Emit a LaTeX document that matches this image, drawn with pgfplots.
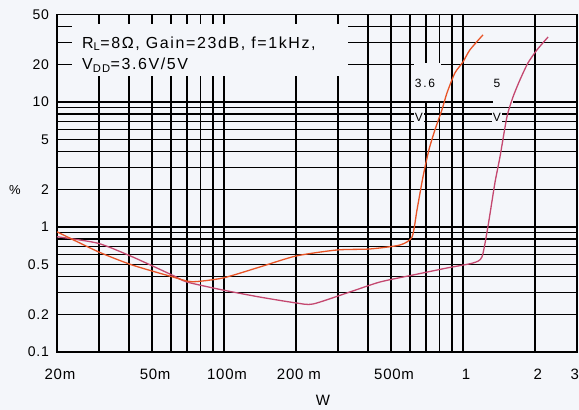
\documentclass[border=0pt]{standalone}
\usepackage{fontspec}
\setmainfont{Liberation Sans}
\newfontfamily\tickfont{Liberation Sans}[LetterSpace=5]
\newfontfamily\boxfont{Liberation Sans}[LetterSpace=10]
\newfontfamily\labfont{Liberation Sans}[LetterSpace=15]
\usepackage{pgfplots}
\pgfplotsset{compat=1.18}
\usetikzlibrary{backgrounds}
\definecolor{paper}{RGB}{244,246,250}
\definecolor{c36}{RGB}{232,84,38}
\definecolor{c5}{RGB}{196,72,112}
\begin{document}
\begin{tikzpicture}
\begin{loglogaxis}[name=ax, scale only axis, width=520pt, height=337.4pt,
  xmin=0.02, xmax=3, ymin=0.1, ymax=50,
  xtick={0.02,0.03,0.04,0.05,0.06,0.07,0.08,0.09,0.1,0.2,0.3,0.4,0.5,0.6,0.7,0.8,0.9,1,2,3},
  xticklabels={20m,,,50m,,,,,100m,200 m,,,500m,,,,,1,2,\makebox[0pt][r]{3\hspace{1pt}}},
  ytick={0.1,0.2,0.3,0.4,0.5,0.6,0.7,0.8,0.9,1,2,3,4,5,6,7,8,9,10,20,30,40,50},
  yticklabels={0.1,0.2,,,0.5,,,,,1,2,,,5,,,,,10,20,,,50},
  grid=major, major grid style={black, line width=1.25pt},
  minor tick num=0,
  major tick length=0pt, minor tick length=0pt,
  axis line style={black, line width=1.4pt},
  xticklabel style={font=\tickfont\fontsize{15}{17}\selectfont, anchor=base, yshift=-27pt, xshift=3pt, inner sep=0pt},
  yticklabel style={font=\tickfont\fontsize{14}{16}\selectfont, anchor=east, xshift=-8pt, inner sep=0pt},
]
% label boxes
\fill[paper] (rel axis cs:0.0288,0.818) rectangle (rel axis cs:0.5596,0.972);
\fill[paper] (rel axis cs:0.6865,0.745) rectangle (rel axis cs:0.738,0.858);
\fill[paper] (rel axis cs:0.838,0.73) rectangle (rel axis cs:0.877,0.76);
\node[anchor=base west, font=\boxfont\fontsize{16}{18}\selectfont, inner sep=0pt] at (rel axis cs:0.048,0.901) {R\textsubscript{L}=8Ω, Gain=23dB, f=1kHz,};
\node[anchor=base west, font=\boxfont\fontsize{16}{18}\selectfont, inner sep=0pt] at (rel axis cs:0.048,0.836) {V\textsubscript{DD}=3.6V/5V};
\node[font=\labfont\fontsize{12}{14}\selectfont, inner sep=0pt] at (rel axis cs:0.7077,0.797) {3.6};
\node[font=\labfont\fontsize{12}{14}\selectfont, inner sep=0.6pt, fill=paper] at (rel axis cs:0.696,0.6965) {V};
\node[font=\labfont\fontsize{12}{14}\selectfont, inner sep=0pt] at (rel axis cs:0.846,0.797) {5};
\node[font=\labfont\fontsize{12}{14}\selectfont, inner sep=0.6pt, fill=paper] at (rel axis cs:0.846,0.6965) {V};
% 5 V curve
\addplot[c5, line width=1.3pt, smooth, tension=0.4] coordinates {
(0.02,0.836) (0.0297,0.741) (0.0412,0.579) (0.0606,0.413) (0.07,0.363) (0.099,0.313)
(0.1414,0.275) (0.2,0.247) (0.2356,0.242) (0.336,0.302) (0.449,0.363) (0.618,0.413)
(0.857,0.470) (1.1,0.515) (1.2,0.575) (1.271,1.0) (1.36,2.25) (1.428,3.63) (1.527,7.59)
(1.619,10.96) (1.731,15.0) (1.87,20.5) (2.04,26.1) (2.27,33.1)};
% 3.6 V curve
\addplot[c36, line width=1.3pt, smooth, tension=0.4] coordinates {
(0.02,0.915) (0.0297,0.635) (0.0412,0.497) (0.0606,0.40) (0.0734,0.365) (0.099,0.391)
(0.1414,0.479) (0.2,0.586) (0.297,0.655) (0.408,0.667) (0.545,0.718) (0.612,0.832)
(0.642,1.368) (0.68,2.51) (0.72,4.13) (0.763,5.97) (0.816,8.63) (0.857,11.8)
(0.925,17.06) (1.0,20.9) (1.069,26.1) (1.212,34.4)};
\end{loglogaxis}
\node[font=\fontsize{13}{15}\selectfont] at ([shift={(-42pt,162pt)}]ax.south west) {\%};
\node[font=\fontsize{15}{17}\selectfont] at ([shift={(266pt,-48pt)}]ax.south west) {W};
\pgfresetboundingbox
\path[use as bounding box] ([shift={(-57pt,-58pt)}]ax.south west) rectangle ([shift={(2pt,14.6pt)}]ax.north east);
\begin{scope}[on background layer]
\fill[paper] ([shift={(-57pt,-58pt)}]ax.south west) rectangle ([shift={(2pt,14.6pt)}]ax.north east);
\end{scope}
\end{tikzpicture}
\end{document}
